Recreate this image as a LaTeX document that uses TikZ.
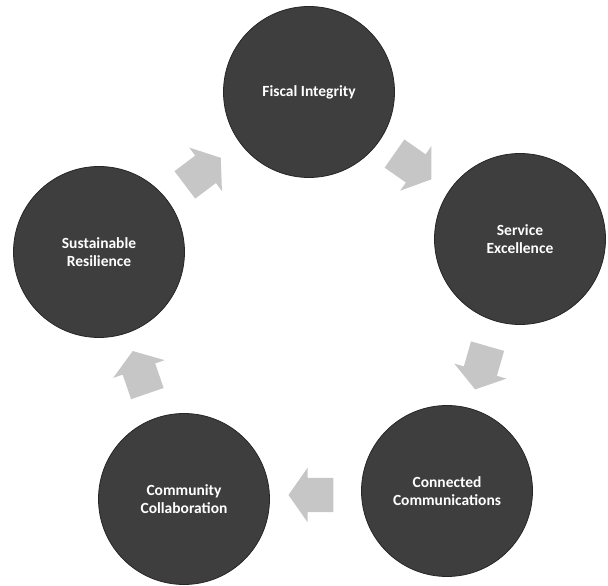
\documentclass[tikz,border=0pt]{standalone}
\usepackage{fontspec}
\setmainfont{Carlito}
\usetikzlibrary{shapes.arrows}
\definecolor{disc}{HTML}{3E3E3E}
\definecolor{discedge}{HTML}{262626}
\definecolor{blk}{HTML}{C6C6C6}
\tikzset{
  stage/.style={circle, fill=disc, draw=discedge, line width=0.8pt, minimum size=171pt,
    inner sep=0pt, text=white, align=center, font=\fontsize{15.5}{18.5}\selectfont\bfseries},
  flow/.style={single arrow, fill=blk, draw=none, minimum height=45pt,
    single arrow head extend=10pt, single arrow tip angle=110, inner xsep=0pt, inner ysep=17pt}
}
\begin{document}
\begin{tikzpicture}[x=1pt,y=1pt]
\useasboundingbox (0,0) rectangle (608,586);
\node[stage] (fiscal) at (309,494) {Fiscal Integrity};
\node[stage] (service) at (520,347) {Service\\Excellence};
\node[stage] (connected) at (447,95) {Connected\\Communications};
\node[stage] (community) at (184,87) {Community\\Collaboration};
\node[stage] (sustain) at (99,334) {Sustainable\\Resilience};
\node[flow, rotate=-35] (a1) at (408,423) {};
\node[flow, rotate=-106] (a2) at (483,224) {};
\node[flow, rotate=180] (a3) at (317,91) {};
\node[flow, rotate=109] (a4) at (142,208) {};
\node[flow, rotate=37] (a5) at (198,411) {};
\end{tikzpicture}
\end{document}
